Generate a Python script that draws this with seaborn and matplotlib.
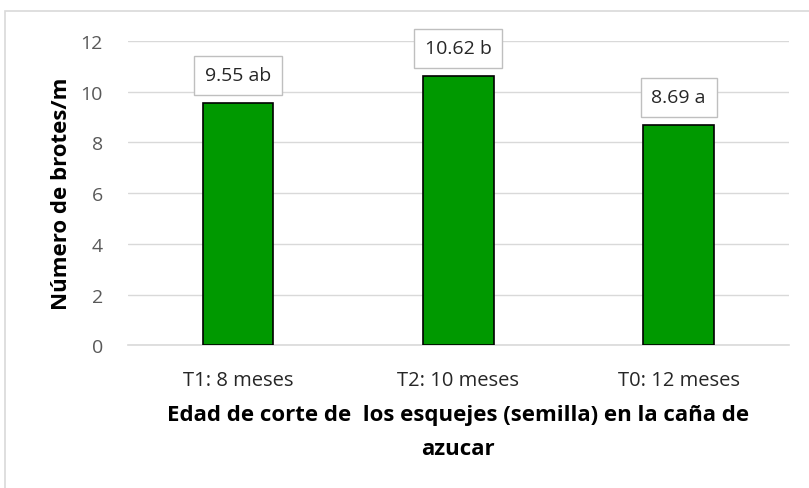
import matplotlib
matplotlib.use("Agg")
import matplotlib.pyplot as plt
import seaborn as sns
import pandas as pd
from matplotlib.patches import Rectangle

categories = ["T1: 8 meses", "T2: 10 meses", "T0: 12 meses"]
values = [9.55, 10.62, 8.69]
letters = ["ab", "b", "a"]
y_ticks = [0, 2, 4, 6, 8, 10, 12]

sns.set_theme(style="white")
plt.rcParams["font.family"] = ["Open Sans", "DejaVu Sans"]

df = pd.DataFrame({"trat": categories, "brotes": values})

fig = plt.figure(figsize=(8.09, 4.89), dpi=100)
ax = fig.add_axes([0.158, 0.292, 0.817, 0.622])

sns.barplot(data=df, x="trat", y="brotes", ax=ax, color="#009900",
            saturation=1, width=0.32, edgecolor="black", linewidth=1.2, zorder=3)

ax.set_ylim(0, 12)
ax.set_yticks(y_ticks)
ax.set_yticklabels([str(t) for t in y_ticks], fontsize=14, color="#595959")
ax.tick_params(axis="x", labelsize=14.5, length=0, pad=18)
ax.tick_params(axis="y", length=0, pad=18)
for lbl in ax.get_xticklabels():
    lbl.set_color("#262626")
ax.yaxis.grid(True, color="#d9d9d9", linewidth=1, zorder=0)
ax.set_axisbelow(True)
for s in ["top", "right", "left"]:
    ax.spines[s].set_visible(False)
ax.spines["bottom"].set_color("#d9d9d9")
ax.spines["bottom"].set_linewidth(1.2)

ax.set_ylabel("Número de brotes/m", fontsize=16, fontweight="bold", color="black", labelpad=6)
ax.set_xlabel("Edad de corte de  los esquejes (semilla) en la caña de\nazucar",
              fontsize=16, fontweight="bold", color="black", labelpad=10, linespacing=1.8)

for i, (v, l) in enumerate(zip(values, letters)):
    ax.annotate(f"{v:.2f} {l}", xy=(i, v), xytext=(0, 13.5), textcoords="offset points",
                ha="center", va="bottom", fontsize=14, color="#262626",
                bbox=dict(boxstyle="square,pad=0.55", fc="white", ec="#bfbfbf", lw=1),
                zorder=5)

# chart frame
fig.patches.append(Rectangle((0.006, -0.01), 1.2, 0.985, transform=fig.transFigure,
                             fill=False, ec="#d9d9d9", lw=1.2))

fig.savefig("out.png", dpi=100, facecolor="white")
